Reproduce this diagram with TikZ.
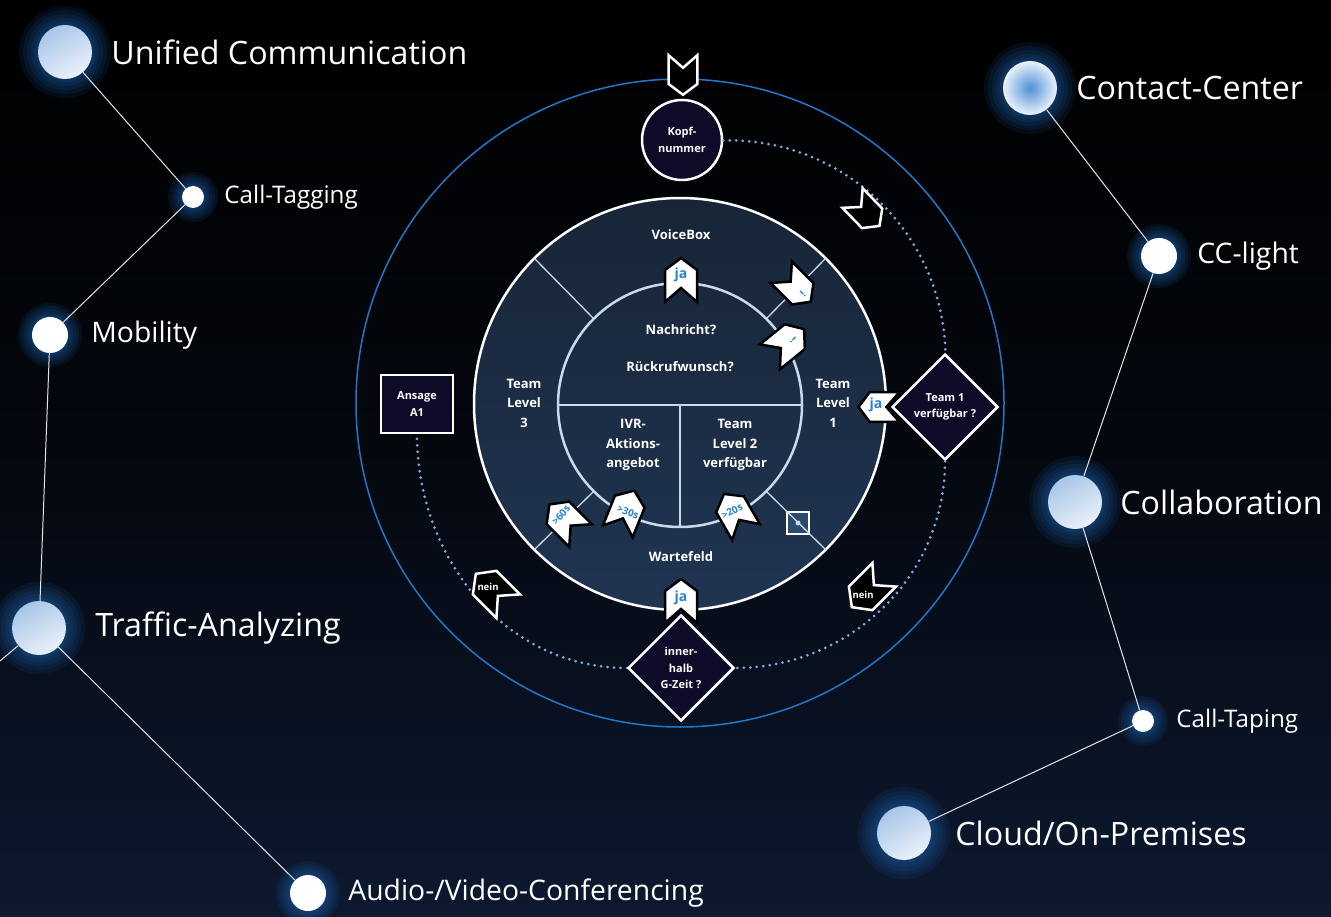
\documentclass[tikz,border=0pt]{standalone}
\usepackage{fontspec}
\setmainfont{Open Sans}
\usepackage{xcolor}
\usepackage{tikz}
\usetikzlibrary{positioning,shapes.geometric,backgrounds}

\definecolor{bgbot}{RGB}{13,25,48}
\definecolor{halo}{RGB}{24,84,150}
\definecolor{ballA}{RGB}{168,198,232}
\definecolor{ballB}{RGB}{234,241,250}
\definecolor{ccblue}{RGB}{78,145,215}
\definecolor{orbitblue}{RGB}{30,120,200}
\definecolor{discA}{RGB}{24,37,55}
\definecolor{discB}{RGB}{31,53,82}
\definecolor{coreline}{RGB}{200,218,238}
\definecolor{navy}{RGB}{14,11,40}
\definecolor{jablue}{RGB}{40,130,205}
\definecolor{dotblue}{RGB}{125,172,220}
\definecolor{markfill}{RGB}{44,76,110}

\tikzset{
  pics/chevron/.style={code={
    \draw[#1] (-22,16) -- (10,16) -- (22,0) -- (10,-16) -- (-22,-16) -- (-8,0) -- cycle;
  }},
  chevwhite/.style={fill=white, draw=black, line width=2.5},
  chevblack/.style={fill=black, draw=white, line width=2.5},
  halobig/.style={
    preaction={draw=halo, draw opacity=.14, line width=38},
    preaction={draw=halo, draw opacity=.15, line width=30},
    preaction={draw=halo, draw opacity=.16, line width=22},
    preaction={draw=halo, draw opacity=.18, line width=14},
    preaction={draw=halo, draw opacity=.2, line width=7}},
  halosmall/.style={
    preaction={draw=halo, draw opacity=.14, line width=28},
    preaction={draw=halo, draw opacity=.15, line width=22},
    preaction={draw=halo, draw opacity=.16, line width=16},
    preaction={draw=halo, draw opacity=.18, line width=10},
    preaction={draw=halo, draw opacity=.2, line width=5}}
}

\begin{document}
\begin{tikzpicture}[
    x=1pt, y=-1pt,
    ball/.style={circle, inner sep=0, minimum size=54, top color=ballA, bottom color=ballB, shading angle=30, halobig},
    dot/.style={circle, inner sep=0, minimum size=#1, fill=white, halosmall},
    lblbig/.style={text=white, inner sep=0, font=\fontsize{32.2}{37}\selectfont},
    lblmid/.style={text=white, inner sep=0, font=\fontsize{28.3}{32}\selectfont},
    lblsmall/.style={text=white, inner sep=0, font=\fontsize{24.2}{28}\selectfont},
    link/.style={draw=white!90!black, line width=1},
    disc/.style={circle, inner sep=0, outer sep=0, minimum size=412, draw=white, line width=2.5, top color=discA, bottom color=discB},
    core/.style={circle, inner sep=0, outer sep=0, minimum size=244, draw=coreline, line width=2.5},
    divider/.style={draw=coreline, line width=1.3},
    intext/.style={text=white, align=center, inner sep=0, font=\bfseries\fontsize{13}{19.5}\selectfont},
    flowtext/.style={text=white, align=center, font=\bfseries\fontsize{11}{16.5}\selectfont},
    roundnode/.style={circle, flowtext, minimum size=80, inner sep=0, fill=navy, draw=white, line width=2.5},
    decision/.style={diamond, flowtext, minimum size=106, inner sep=0, fill=navy, draw=white, line width=2.5},
    boxnode/.style={rectangle, flowtext, minimum width=72, minimum height=58, inner sep=0, fill=navy, draw=white, line width=2.5},
    dotflow/.style={draw=dotblue, line width=3, line cap=round, dash pattern=on 0pt off 6.5pt},
    chja/.style={text=jablue, inner sep=0, font=\bfseries\fontsize{14}{14}\selectfont},
    chsec/.style={text=jablue, inner sep=0, font=\bfseries\fontsize{10}{10}\selectfont},
    chnein/.style={text=white, inner sep=0, font=\bfseries\fontsize{9.5}{10}\selectfont}
  ]
  \useasboundingbox (0,0) rectangle (1331,917);
  \shade[top color=black, bottom color=bgbot, middle color=black!70!bgbot] (0,0) rectangle (1331,917);

  % left chain
  \node[ball] (uc) at (65,52) {};
  \node[lblbig, right=19pt of uc] (uctxt) {Unified Communication};
  \node[dot=22] (tag) at (193,197) {};
  \node[lblsmall, right=20pt of tag] (tagtxt) {Call-Tagging};
  \node[dot=36] (mob) at (50,335) {};
  \node[lblmid, right=23pt of mob] (mobtxt) {Mobility};
  \node[ball] (traffic) at (39,628) {};
  \node[lblbig, right=29pt of traffic] (traffictxt) {Traffic-Analyzing};
  \node[dot=36] (av) at (308,893) {};
  \node[lblmid, right=22pt of av] (avtxt) {Audio-/Video-Conferencing};
  \coordinate (offleft) at (0,661);

  % right chain
  \node[ball, inner color=ccblue, outer color=ballB] (cc) at (1030,88) {};
  \node[lblbig, right=19pt of cc] (cctxt) {Contact-Center};
  \node[dot=36] (ccl) at (1159,256) {};
  \node[lblmid, right=20pt of ccl] (ccltxt) {CC-light};
  \node[ball] (collab) at (1075,502) {};
  \node[lblbig, right=18pt of collab] (collabtxt) {Collaboration};
  \node[dot=22] (tape) at (1143,721) {};
  \node[lblsmall, right=22pt of tape] (tapetxt) {Call-Taping};
  \node[ball] (cloud) at (904,833) {};
  \node[lblbig, right=24pt of cloud] (cloudtxt) {Cloud/On-Premises};

  \draw[link] (uc) -- (tag);
  \draw[link] (tag) -- (mob);
  \draw[link] (mob) -- (traffic);
  \draw[link] (traffic) -- (offleft);
  \draw[link] (traffic) -- (av);
  \draw[link] (cc) -- (ccl);
  \draw[link] (ccl) -- (collab);
  \draw[link] (collab) -- (tape);
  \draw[link] (tape) -- (cloud);

  % central wheel
  \node[circle, minimum size=648, inner sep=0, draw=orbitblue, line width=1.5] (orbit) at (680,403) {};
  \node[disc] (disc) at (680,404) {};
  \node[core] (core) at (680,405) {};
  \node[rectangle, minimum size=22, inner sep=0, fill=markfill, draw=white, line width=2] (mark) at (798,523) {};
  \foreach \a in {45,135,225,315}
    \draw[divider] (core.\a) -- (disc.\a);
  \draw[divider] (core.west) -- (core.east);
  \draw[divider] (core.center) -- (core.south);
  \fill[coreline] (mark) circle (2.5);

  \node[intext] (vbox) at (681,235) {VoiceBox};
  \node[intext] (msg) at (681,330) {Nachricht?};
  \node[intext] (cb) at (680,367) {Rückrufwunsch?};
  \node[intext] (tl3) at (524,403) {Team\\Level\\3};
  \node[intext] (tl1) at (833,403) {Team\\Level\\1};
  \node[intext] (ivr) at (633,445) {IVR-\\Aktions-\\angebot};
  \node[intext] (tl2) at (735,445) {Team\\Level 2\\verfügbar};
  \node[intext] (wait) at (681,557) {Wartefeld};

  % call flow
  \node[roundnode] (kopf) at (682,140) {Kopf-\\nummer};
  \node[decision] (team1) at (945,407) {Team 1\\verfügbar ?};
  \node[boxnode] (ansage) at (417,404) {Ansage\\A1};
  \node[coordinate] (gzpos) at (681,668) {};
  \draw[dotflow] (kopf) to[bend left=45] (team1);
  \draw[dotflow] (team1.south) to[out=-90, in=0] (735,668);
  \draw[dotflow] (627,668) to[out=180, in=-90] (ansage.south);

  % chevrons
  \pic (entry) [rotate=-90, scale=.9] at (683,75) {chevron=chevblack};
  \pic (onarc) [rotate=-46, scale=.88] at (866,212) {chevron=chevblack};
  \pic (vbja) [rotate=90] at (681,280) {chevron=chevwhite};
  \node[chja] (vbjatxt) at (681,275) {ja};
  \pic (exa) [rotate=-45, scale=.95] at (796,287) {chevron=chevwhite};
  \node[chsec, rotate=45] (exatxt) at (803,294) {!};
  \pic (exb) [rotate=39] at (787,343) {chevron=chevwhite};
  \node[chsec, rotate=-45] (exbtxt) at (793,340) {!};
  \pic (t1ja) [rotate=180, scale=.93] at (879,407) {chevron=chevwhite};
  \node[chja] (t1jatxt) at (876,405) {ja};
  \pic (s60) [rotate=135] at (565,520) {chevron=chevwhite};
  \node[chsec, rotate=50] (s60txt) at (561,515) {>60s};
  \pic (s30) [rotate=68] at (626,511) {chevron=chevwhite};
  \node[chsec, rotate=-22] (s30txt) at (628,512) {>30s};
  \pic (s20) [rotate=120] at (735,513) {chevron=chevwhite};
  \node[chsec, rotate=27] (s20txt) at (732,511) {>20s};
  \pic (neinr) [rotate=-135, scale=1.04] at (868,591) {chevron=chevblack};
  \node[chnein] (neinrtxt) at (863,595) {nein};
  \pic (neinl) [rotate=135, scale=1.04] at (492,590) {chevron=chevblack};
  \node[chnein] (neinltxt) at (488,587) {nein};
  \pic (gzja) [rotate=90] at (681,601) {chevron=chevwhite};
  \node[chja] (gzjatxt) at (681,598) {ja};

  \node[decision] (gzeit) at (gzpos) {inner-\\halb\\G-Zeit ?};
\end{tikzpicture}
\end{document}
